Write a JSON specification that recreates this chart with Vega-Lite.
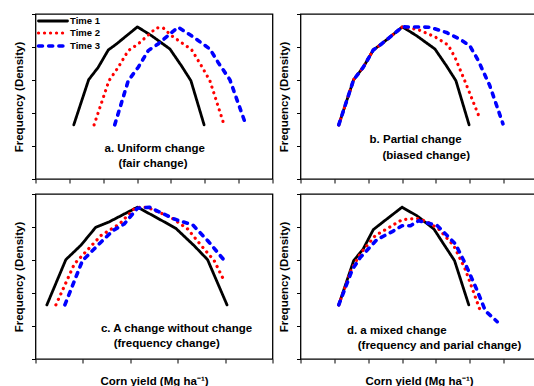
{
  "$schema": "https://vega.github.io/schema/vega-lite/v6.json",
  "autosize": {"type": "pad"},
  "padding": {"left": 11.5, "top": 12, "right": -4, "bottom": 0},
  "background": "white",
  "columns": 2,
  "spacing": {"row": 15, "column": 28},
  "bounds": "flush",
  "config": {
    "font": "Liberation Sans",
    "view": {"stroke": "black", "strokeWidth": 1.3},
    "axis": {"grid": false, "domain": false, "labels": false, "ticks": true, "tickSize": 4, "tickColor": "black", "tickWidth": 1, "titleFont": "Liberation Sans", "titleFontSize": 11.5, "titleFontWeight": "bold", "titleColor": "black"}
  },
  "resolve": {"scale": {"color": "independent", "strokeDash": "independent", "strokeWidth": "independent"}, "legend": {"color": "independent", "strokeDash": "independent", "strokeWidth": "independent"}},
  "datasets": {
    "curves": [
      {"p":"a","s":"Time 1","x":1.13,"y":1.64},{"p":"a","s":"Time 1","x":1.57,"y":3.01},{"p":"a","s":"Time 1","x":1.85,"y":3.38},{"p":"a","s":"Time 1","x":2.15,"y":3.91},{"p":"a","s":"Time 1","x":2.39,"y":4.09},{"p":"a","s":"Time 1","x":3.01,"y":4.61},{"p":"a","s":"Time 1","x":3.43,"y":4.34},{"p":"a","s":"Time 1","x":3.97,"y":3.94},{"p":"a","s":"Time 1","x":4.31,"y":3.43},{"p":"a","s":"Time 1","x":4.59,"y":2.98},{"p":"a","s":"Time 1","x":4.98,"y":1.64},
      {"p":"a","s":"Time 2","x":1.73,"y":1.64},{"p":"a","s":"Time 2","x":2.17,"y":2.98},{"p":"a","s":"Time 2","x":2.44,"y":3.38},{"p":"a","s":"Time 2","x":2.74,"y":3.89},{"p":"a","s":"Time 2","x":3.03,"y":4.09},{"p":"a","s":"Time 2","x":3.57,"y":4.58},{"p":"a","s":"Time 2","x":3.77,"y":4.58},{"p":"a","s":"Time 2","x":4.02,"y":4.34},{"p":"a","s":"Time 2","x":4.61,"y":3.92},{"p":"a","s":"Time 2","x":4.9,"y":3.43},{"p":"a","s":"Time 2","x":5.15,"y":2.98},{"p":"a","s":"Time 2","x":5.57,"y":1.64},
      {"p":"a","s":"Time 3","x":2.34,"y":1.64},{"p":"a","s":"Time 3","x":2.74,"y":2.98},{"p":"a","s":"Time 3","x":3.03,"y":3.38},{"p":"a","s":"Time 3","x":3.33,"y":3.89},{"p":"a","s":"Time 3","x":3.62,"y":4.09},{"p":"a","s":"Time 3","x":4.21,"y":4.6},{"p":"a","s":"Time 3","x":4.61,"y":4.34},{"p":"a","s":"Time 3","x":5.15,"y":3.94},{"p":"a","s":"Time 3","x":5.39,"y":3.54},{"p":"a","s":"Time 3","x":5.74,"y":3.01},{"p":"a","s":"Time 3","x":6.18,"y":1.74},
      {"p":"b","s":"Time 1","x":1.13,"y":1.64},{"p":"b","s":"Time 1","x":1.57,"y":3.01},{"p":"b","s":"Time 1","x":1.85,"y":3.38},{"p":"b","s":"Time 1","x":2.15,"y":3.91},{"p":"b","s":"Time 1","x":2.39,"y":4.09},{"p":"b","s":"Time 1","x":3.01,"y":4.61},{"p":"b","s":"Time 1","x":3.43,"y":4.34},{"p":"b","s":"Time 1","x":3.97,"y":3.94},{"p":"b","s":"Time 1","x":4.31,"y":3.43},{"p":"b","s":"Time 1","x":4.59,"y":2.98},{"p":"b","s":"Time 1","x":4.98,"y":1.64},
      {"p":"b","s":"Time 2","x":1.13,"y":1.64},{"p":"b","s":"Time 2","x":1.57,"y":3.01},{"p":"b","s":"Time 2","x":1.85,"y":3.38},{"p":"b","s":"Time 2","x":2.15,"y":3.91},{"p":"b","s":"Time 2","x":2.39,"y":4.09},{"p":"b","s":"Time 2","x":3.01,"y":4.61},{"p":"b","s":"Time 2","x":3.47,"y":4.53},{"p":"b","s":"Time 2","x":3.97,"y":4.31},{"p":"b","s":"Time 2","x":4.36,"y":4.06},{"p":"b","s":"Time 2","x":4.56,"y":3.69},{"p":"b","s":"Time 2","x":4.85,"y":2.98},{"p":"b","s":"Time 2","x":5.31,"y":1.8},
      {"p":"b","s":"Time 3","x":1.13,"y":1.64},{"p":"b","s":"Time 3","x":1.57,"y":3.01},{"p":"b","s":"Time 3","x":1.85,"y":3.38},{"p":"b","s":"Time 3","x":2.15,"y":3.91},{"p":"b","s":"Time 3","x":2.39,"y":4.09},{"p":"b","s":"Time 3","x":3.01,"y":4.61},{"p":"b","s":"Time 3","x":3.82,"y":4.6},{"p":"b","s":"Time 3","x":4.31,"y":4.44},{"p":"b","s":"Time 3","x":4.7,"y":4.24},{"p":"b","s":"Time 3","x":5.0,"y":4.04},{"p":"b","s":"Time 3","x":5.25,"y":3.59},{"p":"b","s":"Time 3","x":5.59,"y":2.83},{"p":"b","s":"Time 3","x":5.98,"y":1.67},
      {"p":"c","s":"Time 1","x":0.24,"y":1.64},{"p":"c","s":"Time 1","x":0.64,"y":3.01},{"p":"c","s":"Time 1","x":0.96,"y":3.45},{"p":"c","s":"Time 1","x":1.27,"y":3.99},{"p":"c","s":"Time 1","x":1.56,"y":4.16},{"p":"c","s":"Time 1","x":2.15,"y":4.6},{"p":"c","s":"Time 1","x":2.51,"y":4.32},{"p":"c","s":"Time 1","x":2.96,"y":3.96},{"p":"c","s":"Time 1","x":3.35,"y":3.43},{"p":"c","s":"Time 1","x":3.63,"y":3.01},{"p":"c","s":"Time 1","x":4.04,"y":1.64},
      {"p":"c","s":"Time 2","x":0.43,"y":1.64},{"p":"c","s":"Time 2","x":0.82,"y":2.88},{"p":"c","s":"Time 2","x":1.38,"y":3.74},{"p":"c","s":"Time 2","x":1.77,"y":4.09},{"p":"c","s":"Time 2","x":2.08,"y":4.55},{"p":"c","s":"Time 2","x":2.23,"y":4.61},{"p":"c","s":"Time 2","x":2.37,"y":4.59},{"p":"c","s":"Time 2","x":2.86,"y":4.29},{"p":"c","s":"Time 2","x":3.21,"y":3.94},{"p":"c","s":"Time 2","x":3.49,"y":3.45},{"p":"c","s":"Time 2","x":3.77,"y":2.98},{"p":"c","s":"Time 2","x":3.97,"y":2.4},
      {"p":"c","s":"Time 3","x":0.62,"y":1.64},{"p":"c","s":"Time 3","x":0.99,"y":2.98},{"p":"c","s":"Time 3","x":1.38,"y":3.54},{"p":"c","s":"Time 3","x":1.63,"y":3.89},{"p":"c","s":"Time 3","x":1.87,"y":4.09},{"p":"c","s":"Time 3","x":2.15,"y":4.57},{"p":"c","s":"Time 3","x":2.4,"y":4.6},{"p":"c","s":"Time 3","x":2.93,"y":4.24},{"p":"c","s":"Time 3","x":3.32,"y":4.06},{"p":"c","s":"Time 3","x":3.63,"y":3.59},{"p":"c","s":"Time 3","x":3.97,"y":3.01},
      {"p":"d","s":"Time 1","x":1.13,"y":1.64},{"p":"d","s":"Time 1","x":1.57,"y":2.98},{"p":"d","s":"Time 1","x":1.85,"y":3.33},{"p":"d","s":"Time 1","x":2.15,"y":3.92},{"p":"d","s":"Time 1","x":2.36,"y":4.09},{"p":"d","s":"Time 1","x":3.0,"y":4.6},{"p":"d","s":"Time 1","x":3.44,"y":4.34},{"p":"d","s":"Time 1","x":3.94,"y":3.94},{"p":"d","s":"Time 1","x":4.23,"y":3.48},{"p":"d","s":"Time 1","x":4.55,"y":2.98},{"p":"d","s":"Time 1","x":4.97,"y":1.64},
      {"p":"d","s":"Time 2","x":1.13,"y":1.64},{"p":"d","s":"Time 2","x":1.5,"y":2.71},{"p":"d","s":"Time 2","x":1.77,"y":3.2},{"p":"d","s":"Time 2","x":2.21,"y":3.74},{"p":"d","s":"Time 2","x":3.0,"y":4.22},{"p":"d","s":"Time 2","x":3.44,"y":4.26},{"p":"d","s":"Time 2","x":3.74,"y":4.16},{"p":"d","s":"Time 2","x":4.08,"y":3.94},{"p":"d","s":"Time 2","x":4.53,"y":3.43},{"p":"d","s":"Time 2","x":4.87,"y":2.71},{"p":"d","s":"Time 2","x":5.31,"y":1.46},
      {"p":"d","s":"Time 3","x":1.13,"y":1.64},{"p":"d","s":"Time 3","x":1.53,"y":2.71},{"p":"d","s":"Time 3","x":1.77,"y":3.08},{"p":"d","s":"Time 3","x":2.26,"y":3.62},{"p":"d","s":"Time 3","x":2.71,"y":3.86},{"p":"d","s":"Time 3","x":3.0,"y":4.04},{"p":"d","s":"Time 3","x":3.25,"y":4.04},{"p":"d","s":"Time 3","x":3.49,"y":4.19},{"p":"d","s":"Time 3","x":4.04,"y":4.04},{"p":"d","s":"Time 3","x":4.33,"y":3.74},{"p":"d","s":"Time 3","x":4.58,"y":3.48},{"p":"d","s":"Time 3","x":4.87,"y":2.88},{"p":"d","s":"Time 3","x":5.22,"y":2.07},{"p":"d","s":"Time 3","x":5.46,"y":1.46},{"p":"d","s":"Time 3","x":5.81,"y":1.13}
    ],
    "labels": [
      {"p":"a","x":2.04,"y":0.91,"t":"a. Uniform change"},
      {"p":"a","x":2.45,"y":0.45,"t":"(fair change)"},
      {"p":"b","x":2.04,"y":1.18,"t":"b. Partial change"},
      {"p":"b","x":2.42,"y":0.7,"t":"(biased change)"},
      {"p":"c","x":1.38,"y":0.91,"t":"c. A change without change"},
      {"p":"c","x":1.65,"y":0.45,"t":"(frequency change)"},
      {"p":"d","x":1.37,"y":0.85,"t":"d. a mixed change"},
      {"p":"d","x":1.69,"y":0.39,"t":"(frequency and parial change)"}
    ]
  },
  "concat": [
    {
      "width": 237, "height": 165,
      "layer": [
        {
          "data": {"name": "curves"},
          "transform": [{"filter": "datum.p == 'a'"}],
          "mark": {"type": "line", "strokeCap": "round", "strokeJoin": "round"},
          "encoding": {
            "x": {"field": "x", "type": "quantitative", "scale": {"domain": [0, 7], "nice": false, "zero": false}, "axis": {"title": null, "values": [0,1,2,3,4,5,6,7], "tickCount": 20}},
            "y": {"field": "y", "type": "quantitative", "scale": {"domain": [0, 5], "nice": false}, "axis": {"title": "Frequency (Density)", "values": [0,1,2,3,4,5], "tickCount": 20, "titlePadding": 7}},
            "color": {"field": "s", "type": "nominal", "scale": {"domain": ["Time 1","Time 2","Time 3"], "range": ["#000000","#FF0000","#0000FF"]},
              "legend": {"title": null, "orient": "none", "legendX": 11.5, "legendY": 1, "padding": 0, "symbolType": "M-3.47,0H3.47", "symbolSize": 70, "labelFontSize": 9.5, "labelFontWeight": "bold", "labelFont": "Liberation Sans", "labelColor": "black", "labelOffset": 11, "rowPadding": -3.5, "encoding": {"symbols": {"strokeCap": {"value": "round"}}}}},
            "strokeDash": {"field": "s", "type": "nominal", "scale": {"domain": ["Time 1","Time 2","Time 3"], "range": [[1,0],[0.1,5.9],[4,6.2]]}},
            "strokeWidth": {"field": "s", "type": "nominal", "scale": {"domain": ["Time 1","Time 2","Time 3"], "range": [2.8,3.6,3.2]}}
          }
        },
        {
          "data": {"name": "labels"},
          "transform": [{"filter": "datum.p == 'a'"}],
          "mark": {"type": "text", "align": "left", "baseline": "middle", "fontSize": 11.5, "fontWeight": "bold", "font": "Liberation Sans", "color": "black"},
          "encoding": {"x": {"field": "x", "type": "quantitative"}, "y": {"field": "y", "type": "quantitative"}, "text": {"field": "t"}}
        }
      ]
    },
    {
      "width": 237, "height": 165,
      "layer": [
        {
          "data": {"name": "curves"},
          "transform": [{"filter": "datum.p == 'b'"}],
          "mark": {"type": "line", "strokeCap": "round", "strokeJoin": "round"},
          "encoding": {
            "x": {"field": "x", "type": "quantitative", "scale": {"domain": [0, 7], "nice": false, "zero": false}, "axis": {"title": null, "values": [0,1,2,3,4,5,6,7], "tickCount": 20}},
            "y": {"field": "y", "type": "quantitative", "scale": {"domain": [0, 5], "nice": false}, "axis": {"title": "Frequency (Density)", "values": [0,1,2,3,4,5], "tickCount": 20, "titlePadding": 7}},
            "color": {"field": "s", "type": "nominal", "scale": {"domain": ["Time 1","Time 2","Time 3"], "range": ["#000000","#FF0000","#0000FF"]}, "legend": null},
            "strokeDash": {"field": "s", "type": "nominal", "scale": {"domain": ["Time 1","Time 2","Time 3"], "range": [[1,0],[0.1,5.9],[4,6.2]]}, "legend": null},
            "strokeWidth": {"field": "s", "type": "nominal", "scale": {"domain": ["Time 1","Time 2","Time 3"], "range": [2.8,3.6,3.2]}, "legend": null}
          }
        },
        {
          "data": {"name": "labels"},
          "transform": [{"filter": "datum.p == 'b'"}],
          "mark": {"type": "text", "align": "left", "baseline": "middle", "fontSize": 11.5, "fontWeight": "bold", "font": "Liberation Sans", "color": "black"},
          "encoding": {"x": {"field": "x", "type": "quantitative"}, "y": {"field": "y", "type": "quantitative"}, "text": {"field": "t"}}
        }
      ]
    },
    {
      "width": 237, "height": 165,
      "layer": [
        {
          "data": {"name": "curves"},
          "transform": [{"filter": "datum.p == 'c'"}],
          "mark": {"type": "line", "strokeCap": "round", "strokeJoin": "round"},
          "encoding": {
            "x": {"field": "x", "type": "quantitative", "scale": {"domain": [0, 5], "nice": false, "zero": false}, "axis": {"title": "Corn yield (Mg ha⁻¹)", "values": [0,1,2,3,4,5], "tickCount": 20, "titlePadding": 12}},
            "y": {"field": "y", "type": "quantitative", "scale": {"domain": [0, 5], "nice": false}, "axis": {"title": "Frequency (Density)", "values": [0,1,2,3,4,5], "tickCount": 20, "titlePadding": 7}},
            "color": {"field": "s", "type": "nominal", "scale": {"domain": ["Time 1","Time 2","Time 3"], "range": ["#000000","#FF0000","#0000FF"]}, "legend": null},
            "strokeDash": {"field": "s", "type": "nominal", "scale": {"domain": ["Time 1","Time 2","Time 3"], "range": [[1,0],[0.1,5.9],[4,6.2]]}, "legend": null},
            "strokeWidth": {"field": "s", "type": "nominal", "scale": {"domain": ["Time 1","Time 2","Time 3"], "range": [2.8,3.6,3.2]}, "legend": null}
          }
        },
        {
          "data": {"name": "labels"},
          "transform": [{"filter": "datum.p == 'c'"}],
          "mark": {"type": "text", "align": "left", "baseline": "middle", "fontSize": 11.5, "fontWeight": "bold", "font": "Liberation Sans", "color": "black"},
          "encoding": {"x": {"field": "x", "type": "quantitative"}, "y": {"field": "y", "type": "quantitative"}, "text": {"field": "t"}}
        }
      ]
    },
    {
      "width": 237, "height": 165,
      "layer": [
        {
          "data": {"name": "curves"},
          "transform": [{"filter": "datum.p == 'd'"}],
          "mark": {"type": "line", "strokeCap": "round", "strokeJoin": "round"},
          "encoding": {
            "x": {"field": "x", "type": "quantitative", "scale": {"domain": [0, 7], "nice": false, "zero": false}, "axis": {"title": "Corn yield (Mg ha⁻¹)", "values": [0,1,2,3,4,5,6,7], "tickCount": 20, "titlePadding": 12}},
            "y": {"field": "y", "type": "quantitative", "scale": {"domain": [0, 5], "nice": false}, "axis": {"title": "Frequency (Density)", "values": [0,1,2,3,4,5], "tickCount": 20, "titlePadding": 7}},
            "color": {"field": "s", "type": "nominal", "scale": {"domain": ["Time 1","Time 2","Time 3"], "range": ["#000000","#FF0000","#0000FF"]}, "legend": null},
            "strokeDash": {"field": "s", "type": "nominal", "scale": {"domain": ["Time 1","Time 2","Time 3"], "range": [[1,0],[0.1,5.9],[4,6.2]]}, "legend": null},
            "strokeWidth": {"field": "s", "type": "nominal", "scale": {"domain": ["Time 1","Time 2","Time 3"], "range": [2.8,3.6,3.2]}, "legend": null}
          }
        },
        {
          "data": {"name": "labels"},
          "transform": [{"filter": "datum.p == 'd'"}],
          "mark": {"type": "text", "align": "left", "baseline": "middle", "fontSize": 11.5, "fontWeight": "bold", "font": "Liberation Sans", "color": "black"},
          "encoding": {"x": {"field": "x", "type": "quantitative"}, "y": {"field": "y", "type": "quantitative"}, "text": {"field": "t"}}
        }
      ]
    }
  ]
}
